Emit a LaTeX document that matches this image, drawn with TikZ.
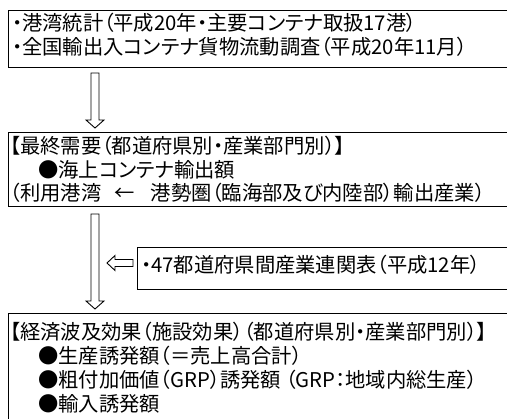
\documentclass[tikz,border=0pt]{standalone}
\usepackage{fontspec}
\setmainfont{Noto Sans CJK JP}[RawFeature=+palt]
\usetikzlibrary{calc}
\newcommand\blkarrowdown[2]{%
  \draw[arrowline] ($(#1)+(-4,0)$) -- ($(#2)+(-4,-8)$) -- ($(#2)+(-9,-8)$) -- (#2)
    -- ($(#2)+(9,-8)$) -- ($(#2)+(4,-8)$) -- ($(#1)+(4,0)$) -- cycle;}
\begin{document}
\begin{tikzpicture}[x=1pt,y=-1pt,
  box/.style={draw, line width=1pt, anchor=north west, inner sep=0pt},
  txt/.style={anchor=west, inner sep=0pt, text=black, font=\fontsize{20.3}{22}\selectfont},
  arrowline/.style={draw, line width=0.9pt, fill=white, line join=miter}]
\useasboundingbox (0,0) rectangle (507,419);
% boxes
\node[box, minimum width=502pt, minimum height=57pt] (b1) at (8,10) {};
\node[box, minimum width=502pt, minimum height=74pt] (b2) at (8,132) {};
\node[box, minimum width=373pt, minimum height=42pt] (b4) at (137,247) {};
\node[box, minimum width=502pt, minimum height=108pt] (b3) at (8,313) {};
% texts box 1
\node[txt] (t11) at (12,23) {・港湾統計（平成20年・主要コンテナ取扱17港）};
\node[txt] (t12) at (12,47) {・全国輸出入コンテナ貨物流動調査（平成20年11月）};
% texts box 2
\node[txt] (t21) at (10,146) {【最終需要（都道府県別・産業部門別）】};
\node[txt] (t22) at (38,170) {●海上コンテナ輸出額};
\node[txt] (t23) at (10,193) {（利用港湾\hspace{13pt}←\hspace{16pt}港勢圏（臨海部及び内陸部）輸出産業）};
% text side box
\node[txt] (t41) at (141,265) {・47都道府県間産業連関表（平成12年）};
% texts box 3
\node[txt] (t31) at (10,332) {【経済波及効果（施設効果）（都道府県別・産業部門別）】};
\node[txt] (t32) at (38,356) {●生産誘発額（＝売上高合計）};
\node[txt] (t33) at (38,380) {●粗付加価値（GRP）誘発額\ （GRP：地域内総生産）};
\node[txt] (t34) at (38,404) {●輸入誘発額};
% arrows
\coordinate (a1s) at (95,73);
\coordinate (a1e) at (95,128);
\blkarrowdown{a1s}{a1e}
\coordinate (a2s) at (95,214);
\coordinate (a2e) at (95,309);
\blkarrowdown{a2s}{a2e}
\coordinate (a3s) at (133,263);
\coordinate (a3e) at (107,263);
\draw[arrowline] ($(a3s)+(0,-3.5)$) -- ($(a3e)+(8,-3.5)$) -- ($(a3e)+(8,-7.5)$) -- (a3e)
  -- ($(a3e)+(8,7.5)$) -- ($(a3e)+(8,3.5)$) -- ($(a3s)+(0,3.5)$) -- cycle;
\end{tikzpicture}
\end{document}
